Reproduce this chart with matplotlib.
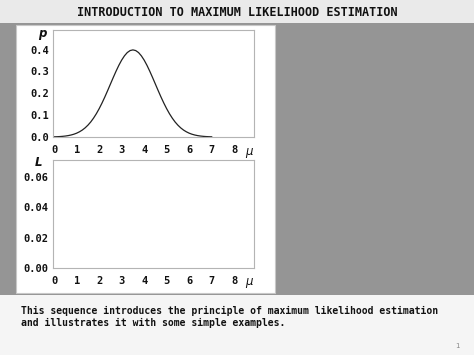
import matplotlib.pyplot as plt
from matplotlib.patches import Rectangle

# density p(mu), every 0.125
mu_vals = [0.0, 0.125, 0.25, 0.375, 0.5, 0.625, 0.75, 0.875, 1.0, 1.125, 1.25, 1.375, 1.5,
           1.625, 1.75, 1.875, 2.0, 2.125, 2.25, 2.375, 2.5, 2.625, 2.75, 2.875, 3.0, 3.125,
           3.25, 3.375, 3.5, 3.625, 3.75, 3.875, 4.0, 4.125, 4.25, 4.375, 4.5, 4.625, 4.75,
           4.875, 5.0, 5.125, 5.25, 5.375, 5.5, 5.625, 5.75, 5.875, 6.0, 6.125, 6.25, 6.375,
           6.5, 6.625, 6.75, 6.875, 7.0]
p_vals = [0.0009, 0.0013, 0.0020, 0.0030, 0.0044, 0.0064, 0.0091, 0.0127, 0.0175, 0.0238,
          0.0317, 0.0417, 0.0540, 0.0687, 0.0863, 0.1065, 0.1295, 0.1550, 0.1826, 0.2119,
          0.2420, 0.2720, 0.3011, 0.3282, 0.3521, 0.3718, 0.3867, 0.3958, 0.3989, 0.3958,
          0.3867, 0.3718, 0.3521, 0.3282, 0.3011, 0.2720, 0.2420, 0.2119, 0.1826, 0.1550,
          0.1295, 0.1065, 0.0863, 0.0687, 0.0540, 0.0417, 0.0317, 0.0238, 0.0175, 0.0127,
          0.0091, 0.0064, 0.0044, 0.0030, 0.0020, 0.0013, 0.0009]

x_ticks = [0, 1, 2, 3, 4, 5, 6, 7, 8]
p_ticks = [0.0, 0.1, 0.2, 0.3, 0.4]
p_labels = ['0.0', '0.1', '0.2', '0.3', '0.4']
L_ticks = [0.00, 0.02, 0.04, 0.06]
L_labels = ['0.00', '0.02', '0.04', '0.06']

title = 'INTRODUCTION TO MAXIMUM LIKELIHOOD ESTIMATION'
caption = ('This sequence introduces the principle of maximum likelihood estimation\n'
           'and illustrates it with some simple examples.')

W, H = 474, 355
fig = plt.figure(figsize=(W / 100, H / 100), dpi=100)

######slide background, drawn in pixel coords######
bg = fig.add_axes([0, 0, 1, 1])
bg.set_xlim(0, W)
bg.set_ylim(H, 0)
bg.axis('off')
bg.add_patch(Rectangle((0, 0), W, 23, color='#eaeaea', lw=0))
bg.add_patch(Rectangle((0, 23), W, 272, color='#959595', lw=0))
bg.add_patch(Rectangle((0, 295), W, 60, color='#f5f5f5', lw=0))
bg.add_patch(Rectangle((16.5, 24.5), 259, 268, facecolor='white', edgecolor='#c8c8c8', lw=0.8))

bg.text(W / 2, 12, title, ha='center', va='center', family='DejaVu Sans Mono',
        weight='bold', fontsize=8.5, color='#111111')
bg.text(21, 317, caption, ha='left', va='center', family='DejaVu Sans Mono',
        weight='bold', fontsize=7.0, color='#111111', linespacing=1.2)
bg.text(457, 346, '1', ha='center', va='center', fontsize=5, color='#888888')

# axis names
for x, y, s in [(42, 33, 'p'), (39, 162, 'L'), (250, 153, r'$\mu$'), (250, 283, r'$\mu$')]:
    bg.text(x, y, s, ha='center', va='center', style='italic', weight='bold',
            fontsize=8.5, color='#111111')


def style(ax, yt, yl):
    ax.set_xlim(-0.05, 8.88)
    ax.set_xticks(x_ticks)
    ax.set_xticklabels([str(t) for t in x_ticks])
    ax.set_yticks(yt)
    ax.set_yticklabels(yl)
    ax.tick_params(length=0, pad=6, labelsize=7.5, colors='#111111')
    ax.tick_params(axis='y', pad=3)
    for lab in ax.get_xticklabels() + ax.get_yticklabels():
        lab.set_family('DejaVu Sans Mono')
        lab.set_weight('bold')
    for sp in ax.spines.values():
        sp.set_color('#b4b4b4')
        sp.set_linewidth(0.8)


######top panel: p(mu)######
ax1 = fig.add_axes([53 / W, 1 - 137 / H, 201 / W, 107 / H])
ax1.plot(mu_vals, p_vals, color='#222222', lw=0.9)
ax1.set_ylim(0, 0.49)
style(ax1, p_ticks, p_labels)

######bottom panel: L(mu), empty######
ax2 = fig.add_axes([53 / W, 1 - 268 / H, 201 / W, 108 / H])
ax2.set_ylim(0, 0.071)
style(ax2, L_ticks, L_labels)

fig.savefig('out.png', dpi=100)
